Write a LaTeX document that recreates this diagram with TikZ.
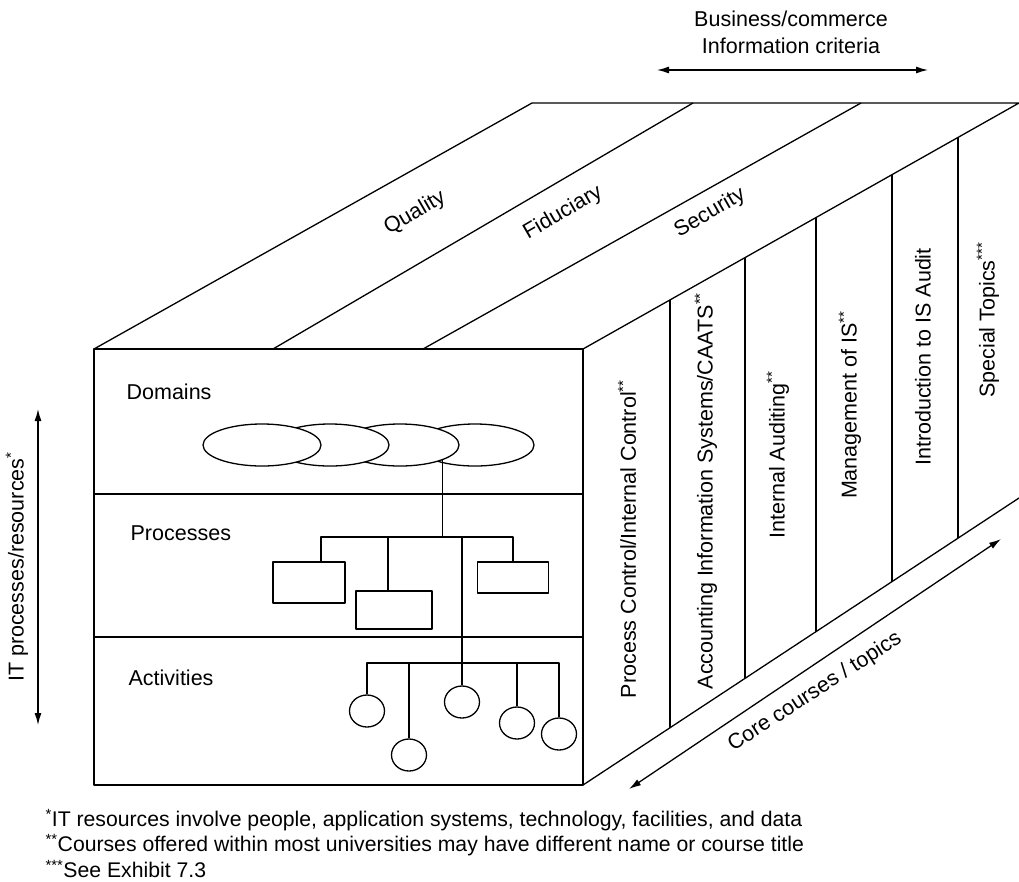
\documentclass[tikz,border=0pt]{standalone}
\usepackage{fontspec}
\setmainfont{Liberation Sans}
\usetikzlibrary{arrows.meta,positioning,calc,shapes.geometric}
\begin{document}
\begin{tikzpicture}[x=1pt,y=-1pt,line join=round,line width=1.3pt,
  >={Latex[length=12pt,width=7pt]},
  txt/.style={font=\fontsize{21.5}{27}\selectfont,inner sep=0pt},
  note/.style={font=\fontsize{21.2}{25}\selectfont,inner sep=0pt,anchor=west},
  dom/.style={ellipse,draw,fill=white,minimum width=118pt,minimum height=42pt,inner sep=0pt},
  proc/.style={rectangle,draw,inner sep=0pt},
  act/.style={ellipse,draw,minimum width=35pt,minimum height=32pt,inner sep=0pt}]
\useasboundingbox (0,0) rectangle (1019,881);
\coordinate (A)  at (94,349);
\coordinate (B)  at (583,349);
\coordinate (C)  at (583,785);
\coordinate (D)  at (94,785);
\coordinate (A1) at (532,103);
\coordinate (B1) at (1019,103);
\coordinate (C1) at (1019,498);
\draw (A)--(A1)--(B1)--(B) (C)--(C1);
\draw (273,349)--(693,103) (423,349)--(861,103);
\foreach \t in {0.1995,0.3716,0.5344,0.7087,0.8601}
  \draw ($(B)!\t!(B1)$)--($(C)!\t!(C1)$);
\draw[line width=1.7pt] (A) rectangle (C);
\draw (94,494)--(583,494) (94,637)--(583,637);

\node[dom] (dm4) at (475,445) {};
\node[dom] (dm3) at (400,445) {};
\node[dom] (dm2) at (330,445) {};
\node[dom] (dm1) at (262,445) {};
\node[proc,minimum width=72pt,minimum height=41pt] (pr1) at (309,582.5) {};
\node[proc,minimum width=76pt,minimum height=38pt] (pr2) at (394,610) {};
\node[proc,minimum width=71pt,minimum height=31pt] (pr3) at (513,577.5) {};
\coordinate (pj) at (442,537);
\draw (dm3.south east)--(dm3.south east |- pj);
\draw ([xshift=12pt]pr1.north) |- (pj) ([xshift=-6pt]pr2.north) |- (pj) (pr3.north) |- (pj);
\node[act] (ac1) at (367,711) {};
\node[act] (ac2) at (409,755) {};
\node[act] (ac3) at (462,702) {};
\node[act] (ac4) at (517,723) {};
\node[act] (ac5) at (559,734) {};
\coordinate (aj) at (462,663);
\draw (ac3.north)--(ac3.north |- pj);
\draw (ac1.north) |- (aj) (ac2.north) |- (aj) (ac4.north) |- (aj) (ac5.north) |- (aj);

\node[txt,anchor=west] (dlab) at (126,392) {Domains};
\node[txt,anchor=west] (plab) at (130,533) {Processes};
\node[txt,anchor=west] (alab) at (128,678) {Activities};
\foreach \x/\s in {415/Quality,563/Fiduciary,710/Security}
  \node[txt,rotate=30] (\s) at (\x,213) {\s};
\node[txt,rotate=90] (co1) at (627,539) {Process Control/Internal Control\textsuperscript{**}};
\node[txt,rotate=90] (co2) at (706,491) {Accounting Information Systems/CAATS\textsuperscript{**}};
\node[txt,rotate=90] (co3) at (778,455) {Internal Auditing\textsuperscript{**}};
\node[txt,rotate=90] (co4) at (850,405) {Management of IS\textsuperscript{**}};
\node[txt,rotate=90] (co5) at (923,357) {Introduction to IS Audit};
\node[txt,rotate=90] (co6) at (988,320) {Special Topics\textsuperscript{***}};

\coordinate (it1) at (38,409);
\coordinate (it2) at (38,725);
\draw[<->] (it1)--(it2);
\node[txt,rotate=90] (itlab) at (17,567) {IT processes/resources\textsuperscript{*}};
\coordinate (bc1) at (657,70);
\coordinate (bc2) at (928,70);
\draw[<->] (bc1)--(bc2);
\node[txt,align=center] (bclab) at (791,32) {Business/commerce\\Information criteria};
\coordinate (cc1) at (629,789);
\coordinate (cc2) at (1001,539);
\draw[<->] (cc1)--(cc2);
\node[txt,rotate=33] (cclab) at (815,692) {Core courses / topics};

\node[note] (n1) at (45,820) {\textsuperscript{*}IT resources involve people, application systems, technology, facilities, and data};
\node[note] (n2) at (45,845) {\textsuperscript{**}Courses offered within most universities may have different name or course title};
\node[note] (n3) at (45,869) {\textsuperscript{***}See Exhibit 7.3};
\end{tikzpicture}
\end{document}
